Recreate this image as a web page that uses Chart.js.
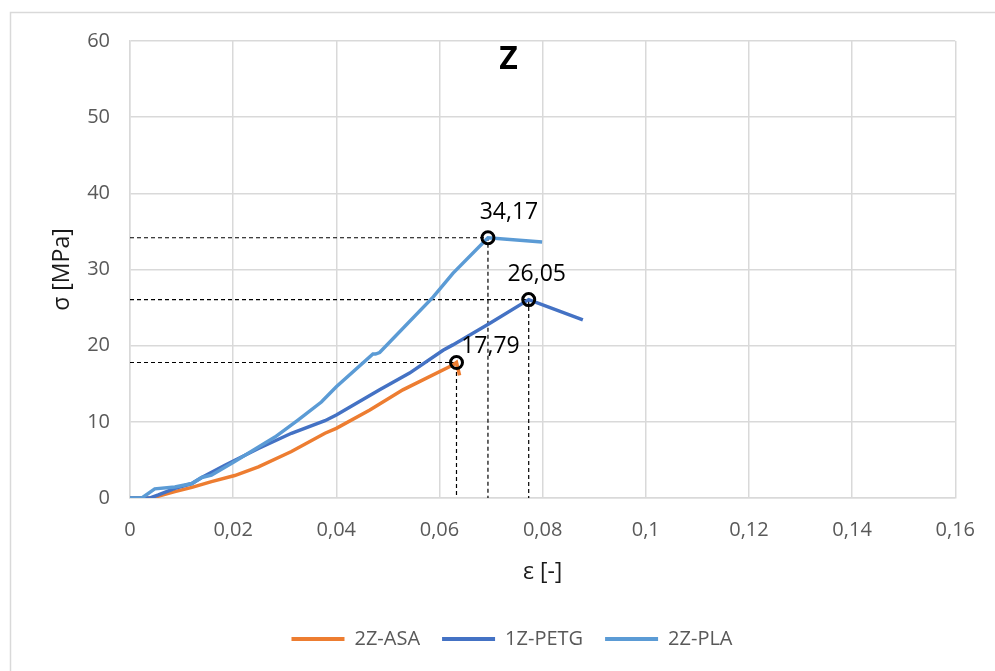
<!DOCTYPE html>
<html>
<head>
<meta charset="utf-8">
<script src="https://cdn.jsdelivr.net/npm/chart.js@4.4.1/dist/chart.umd.min.js"></script>
<style>
  html, body { margin: 0; padding: 0; background: #fff; }
  #wrap { width: 995px; height: 671px; }
</style>
</head>
<body>
<div id="wrap"><canvas id="stressChart" width="995" height="671"></canvas></div>
<script>
// --- Data ---
const seriesNames = ['2Z-ASA', '1Z-PETG', '2Z-PLA'];
const seriesColors = ['#ED7D31', '#4472C4', '#5B9BD5'];

const epsASA = [0, 0.0042, 0.0087, 0.012, 0.0158, 0.0203, 0.0249, 0.0313, 0.0378, 0.040, 0.0465, 0.0529, 0.0626, 0.0633, 0.0639];
const sigASA = [0, 0, 0.83, 1.4, 2.15, 2.95, 4.1, 6.1, 8.5, 9.15, 11.55, 14.2, 17.46, 17.79, 16.1];

const epsPETG = [0, 0.0039, 0.0055, 0.0087, 0.012, 0.0139, 0.0184, 0.0249, 0.0313, 0.0378, 0.040, 0.0484, 0.0542, 0.0607, 0.0626, 0.0697, 0.0773, 0.0878];
const sigPETG = [0, 0, 0.4, 1.27, 1.9, 2.7, 4.3, 6.5, 8.5, 10.15, 10.9, 14.2, 16.4, 19.4, 20.1, 22.9, 26.05, 23.4];

const epsPLA = [0, 0.0023, 0.0048, 0.0087, 0.012, 0.0139, 0.0158, 0.0203, 0.0281, 0.0325, 0.0371, 0.040, 0.0471, 0.0476, 0.0484, 0.0588, 0.0626, 0.0694, 0.0799];
const sigPLA = [0, 0, 1.2, 1.45, 1.9, 2.7, 3.0, 4.8, 8.0, 10.2, 12.6, 14.6, 18.9, 18.9, 19.1, 26.4, 29.5, 34.17, 33.6];

// peak (max stress) points, same order as seriesNames
const peakEps = [0.0633, 0.0773, 0.0694];
const peakSig = [17.79, 26.05, 34.17];
const peakLabels = ['17,79', '26,05', '34,17'];

const yTicks = [0, 10, 20, 30, 40, 50, 60];

const FONT = "'Open Sans', 'DejaVu Sans', sans-serif";
const fmt = (v) => String(Number(v.toFixed(2))).replace('.', ',');
const toPoints = (xs, ys) => xs.map((x, i) => ({ x: x, y: ys[i] }));

// --- Datasets ---
const curves = [[epsASA, sigASA], [epsPETG, sigPETG], [epsPLA, sigPLA]].map((d, i) => ({
    label: seriesNames[i],
    data: toPoints(d[0], d[1]),
    showLine: true,
    borderColor: seriesColors[i],
    backgroundColor: seriesColors[i],
    borderWidth: 3.5,
    pointRadius: 0,
    tension: 0,
    order: 3 - i
}));

const guides = peakEps.map((e, i) => ({
    label: 'guide' + i,
    data: [{ x: 0, y: peakSig[i] }, { x: e, y: peakSig[i] }, { x: e, y: 0 }],
    showLine: true,
    borderColor: '#000',
    borderWidth: 1.2,
    borderDash: [4, 3],
    pointRadius: 0,
    order: 5
}));

const peaks = {
    label: 'peaks',
    data: toPoints(peakEps, peakSig),
    showLine: false,
    pointRadius: 6,
    pointBorderWidth: 3,
    pointBorderColor: '#000',
    pointBackgroundColor: 'rgba(0,0,0,0)',
    order: 0
};

// --- Plugins ---
const frame = {
    id: 'frame',
    beforeDraw(chart) {
        const ctx = chart.ctx;
        ctx.save();
        ctx.fillStyle = '#fff';
        ctx.fillRect(0, 0, chart.width, chart.height);
        ctx.strokeStyle = '#d9d9d9';
        ctx.lineWidth = 1.5;
        ctx.strokeRect(10.5, 12.5, 1000, 700);
        ctx.restore();
    }
};

const labelOffsets = [[34, -16], [8, -25], [21, -25]];
const overlayText = {
    id: 'overlayText',
    afterDraw(chart) {
        const ctx = chart.ctx;
        const xs = chart.scales.x, ys = chart.scales.y;
        ctx.save();
        ctx.textAlign = 'center';
        ctx.textBaseline = 'middle';
        ctx.fillStyle = '#000';
        ctx.font = "bold 32px " + FONT;
        ctx.fillText('Z', 508.5, 60);
        ctx.font = "23px " + FONT;
        peakEps.forEach((e, i) => {
            const px = xs.getPixelForValue(e) + labelOffsets[i][0];
            const py = ys.getPixelForValue(peakSig[i]) + labelOffsets[i][1];
            ctx.fillText(peakLabels[i], px, py);
        });
        ctx.restore();
    }
};

// --- Chart ---
const ctx = document.getElementById('stressChart').getContext('2d');
new Chart(ctx, {
    type: 'scatter',
    data: { datasets: [...curves, ...guides, peaks] },
    options: {
        responsive: false,
        animation: false,
        layout: { padding: { left: 68, right: 39, top: 41, bottom: 12 } },
        plugins: {
            tooltip: { enabled: false },
            legend: {
                position: 'bottom',
                labels: {
                    font: { family: FONT, size: 20 },
                    color: '#595959',
                    boxWidth: 53,
                    boxHeight: 4,
                    padding: 22,
                    filter: (item) => item.datasetIndex < 3,
                    sort: (a, b) => a.datasetIndex - b.datasetIndex,
                    generateLabels: (chart) => Chart.defaults.plugins.legend.labels.generateLabels(chart)
                        .map(l => Object.assign(l, { lineWidth: 0 }))
                }
            }
        },
        scales: {
            x: {
                type: 'linear',
                min: 0,
                max: 0.16,
                afterFit: (s) => { s.height = 671 - 12 - s.chart.legend.height - 498; },
                ticks: {
                    stepSize: 0.02,
                    padding: 20,
                    color: '#595959',
                    font: { family: FONT, size: 20 },
                    callback: (v) => fmt(v)
                },
                grid: { color: '#d9d9d9', lineWidth: 1.5, drawTicks: false },
                border: { color: '#d9d9d9', width: 1.5 },
                title: {
                    display: true,
                    text: 'ε [-]',
                    color: '#1a1a1a',
                    font: { family: FONT, size: 23 },
                    padding: { top: 0, bottom: 21 }
                }
            },
            y: {
                min: 0,
                max: 60,
                afterFit: (s) => { s.width = 62; },
                afterBuildTicks: (s) => { s.ticks = yTicks.map(v => ({ value: v })); },
                ticks: {
                    padding: 20,
                    color: '#595959',
                    font: { family: FONT, size: 20 },
                    callback: (v) => fmt(v)
                },
                grid: { color: '#d9d9d9', lineWidth: 1.5, drawTicks: false },
                border: { color: '#d9d9d9', width: 1.5 },
                title: {
                    display: true,
                    text: 'σ [MPa]',
                    color: '#1a1a1a',
                    font: { family: FONT, size: 23 },
                    padding: { top: -19, bottom: 0 }
                }
            }
        }
    },
    plugins: [frame, overlayText]
});
</script>
</body>
</html>
